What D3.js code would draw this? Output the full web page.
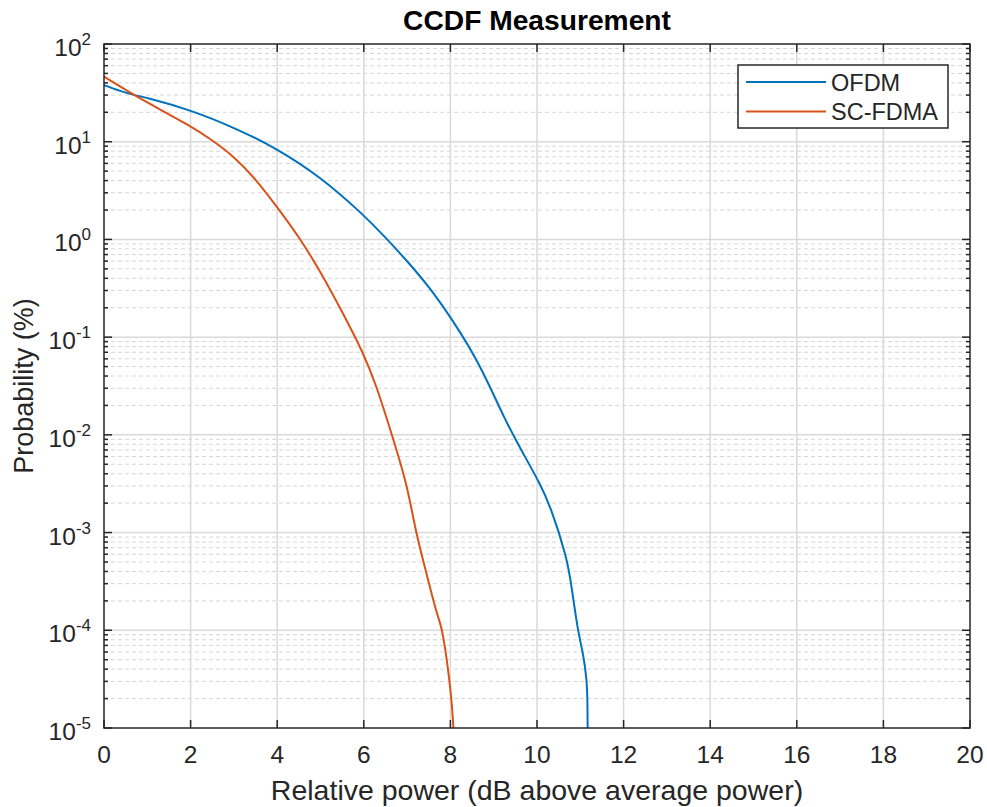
<!DOCTYPE html>
<html>
<head>
<meta charset="utf-8">
<script src="https://cdn.jsdelivr.net/npm/d3@7"></script>
<style>
  body { margin: 0; background: #fff; }
  text { font-family: Arial, "Liberation Sans", Helvetica, sans-serif; fill: #262626; }
</style>
</head>
<body>
<svg id="chart"></svg>
<script>
// CCDF curves (x in dB, probability in %)
var ofdmX = [0, 0.5, 1, 2, 3, 4, 5, 6, 6.5, 7, 7.5, 8, 8.68, 9.26, 9.68, 10.07, 10.3, 10.69, 10.8, 10.95, 11.07, 11.15, 11.165, 11.17];
var ofdmP = [38.0, 31.3, 28.2, 21.1, 14.0, 8.5, 4.37, 1.78, 1.047, 0.603, 0.331, 0.162, 0.0537, 0.0141, 0.00646, 0.00316, 0.00191, 0.000562, 0.000279, 0.0000933, 0.0000575, 0.0000309, 0.0000195, 0.00001];

var scX = [0, 0.5, 1, 2, 2.5, 3, 3.5, 4, 4.5, 5, 5.5, 6, 6.3, 6.6, 7, 7.2, 7.45, 7.68, 7.8, 7.92, 8.03, 8.07];
var scP = [46.3, 33.9, 25.1, 14.5, 10.35, 7.08, 4.17, 2.14, 1.07, 0.468, 0.182, 0.0676, 0.0309, 0.01175, 0.00316, 0.001, 0.00038, 0.000148, 0.00011, 0.00005, 0.0000195, 0.00001];

var seriesNames = ["OFDM", "SC-FDMA"];
var seriesColors = ["#0072BD", "#D95319"];

var xTicks = [0, 2, 4, 6, 8, 10, 12, 14, 16, 18, 20];
var yExps = [-5, -4, -3, -2, -1, 0, 1, 2];

var svgWidth = 987, svgHeight = 807;
var pLeft = 104, pRight = 970, pTop = 44, pBottom = 728;

var svg = d3.select("#chart")
    .attr("width", svgWidth)
    .attr("height", svgHeight);

var x = d3.scaleLinear().domain([0, 20]).range([pLeft, pRight]);
var y = d3.scaleLog().domain([1e-5, 100]).range([pBottom, pTop]);

// minor y values 2..9 in each decade
var minorY = [];
yExps.slice(0, -1).forEach(function(e) {
  for (var k = 2; k <= 9; k++) minorY.push(k * Math.pow(10, e));
});

var grid = svg.append("g");
grid.selectAll("line.minor")
    .data(minorY)
    .enter().append("line")
    .attr("x1", pLeft).attr("x2", pRight)
    .attr("y1", function(d) { return y(d); })
    .attr("y2", function(d) { return y(d); })
    .attr("stroke", "#d6d6d6")
    .attr("stroke-width", 1)
    .attr("stroke-dasharray", "4,3");
grid.selectAll("line.mx")
    .data(xTicks.slice(1, -1))
    .enter().append("line")
    .attr("x1", function(d) { return x(d); })
    .attr("x2", function(d) { return x(d); })
    .attr("y1", pTop).attr("y2", pBottom)
    .attr("stroke", "#d9d9d9")
    .attr("stroke-width", 1.5);
grid.selectAll("line.my")
    .data(yExps.slice(1, -1))
    .enter().append("line")
    .attr("x1", pLeft).attr("x2", pRight)
    .attr("y1", function(d) { return y(Math.pow(10, d)); })
    .attr("y2", function(d) { return y(Math.pow(10, d)); })
    .attr("stroke", "#d9d9d9")
    .attr("stroke-width", 1.5);

// curves
var line = d3.line()
    .x(function(d) { return x(d[0]); })
    .y(function(d) { return y(d[1]); })
    .curve(d3.curveBasis);

var series = [d3.zip(ofdmX, ofdmP), d3.zip(scX, scP)];
svg.append("g").selectAll("path")
    .data(series)
    .enter().append("path")
    .attr("d", line)
    .attr("fill", "none")
    .attr("stroke", function(d, i) { return seriesColors[i]; })
    .attr("stroke-width", 2);

// axes box and ticks
var ax = svg.append("g").attr("stroke", "#262626");
ax.append("rect")
    .attr("x", pLeft).attr("y", pTop)
    .attr("width", pRight - pLeft).attr("height", pBottom - pTop)
    .attr("fill", "none").attr("stroke-width", 1.5);

ax.selectAll("g.xt")
    .data(xTicks)
    .enter().append("g")
    .each(function(d) {
      var g = d3.select(this);
      g.append("line").attr("x1", x(d)).attr("x2", x(d)).attr("y1", pBottom).attr("y2", pBottom - 8).attr("stroke-width", 1.5);
      g.append("line").attr("x1", x(d)).attr("x2", x(d)).attr("y1", pTop).attr("y2", pTop + 8).attr("stroke-width", 1.5);
    });

ax.selectAll("g.ymaj")
    .data(yExps)
    .enter().append("g")
    .each(function(d) {
      var yy = y(Math.pow(10, d));
      var g = d3.select(this);
      g.append("line").attr("x1", pLeft).attr("x2", pLeft + 8).attr("y1", yy).attr("y2", yy).attr("stroke-width", 1.5);
      g.append("line").attr("x1", pRight).attr("x2", pRight - 8).attr("y1", yy).attr("y2", yy).attr("stroke-width", 1.5);
    });

ax.selectAll("g.ymin")
    .data(minorY)
    .enter().append("g")
    .each(function(d) {
      var yy = y(d);
      var g = d3.select(this);
      g.append("line").attr("x1", pLeft).attr("x2", pLeft + 4).attr("y1", yy).attr("y2", yy).attr("stroke-width", 1.5);
      g.append("line").attr("x1", pRight).attr("x2", pRight - 4).attr("y1", yy).attr("y2", yy).attr("stroke-width", 1.5);
    });

// tick labels
svg.append("g").selectAll("text")
    .data(xTicks)
    .enter().append("text")
    .attr("x", function(d) { return x(d); })
    .attr("y", pBottom + 35)
    .attr("text-anchor", "middle")
    .attr("font-size", 24.5)
    .text(function(d) { return d; });

var yl = svg.append("g").selectAll("text")
    .data(yExps)
    .enter().append("text")
    .attr("x", pLeft - 13)
    .attr("y", function(d) { return y(Math.pow(10, d)) + 12; })
    .attr("text-anchor", "end")
    .attr("font-size", 24.5);
yl.append("tspan").text("10");
yl.append("tspan")
    .attr("dy", -11)
    .attr("font-size", 17)
    .text(function(d) { return d; });

// title and labels
svg.append("text")
    .attr("x", (pLeft + pRight) / 2).attr("y", 30)
    .attr("text-anchor", "middle")
    .attr("font-size", 28.2).attr("font-weight", "bold")
    .style("fill", "#000")
    .text("CCDF Measurement");

svg.append("text")
    .attr("x", (pLeft + pRight) / 2).attr("y", 800)
    .attr("text-anchor", "middle")
    .attr("font-size", 28.5)
    .text("Relative power (dB above average power)");

svg.append("text")
    .attr("transform", "translate(33," + ((pTop + pBottom) / 2) + ") rotate(-90)")
    .attr("text-anchor", "middle")
    .attr("font-size", 27)
    .text("Probability (%)");

// legend
var lg = svg.append("g");
lg.append("rect")
    .attr("x", 738).attr("y", 65)
    .attr("width", 210).attr("height", 63)
    .attr("fill", "#fff").attr("stroke", "#262626").attr("stroke-width", 1.5);
seriesNames.forEach(function(name, i) {
  var yy = 82 + i * 29.5;
  lg.append("line")
      .attr("x1", 746).attr("x2", 826)
      .attr("y1", yy).attr("y2", yy)
      .attr("stroke", seriesColors[i]).attr("stroke-width", 2);
  lg.append("text")
      .attr("x", 831).attr("y", yy + 8.5)
      .attr("font-size", 23.5)
      .text(name);
});
</script>
</body>
</html>
